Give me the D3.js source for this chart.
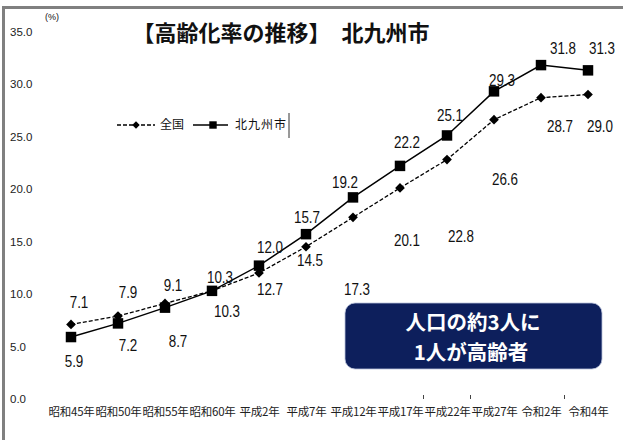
<!DOCTYPE html>
<head>
    <meta charset="utf-8">
    <style>
      body {
          margin: 0;
          background: #fff;
      }
      svg text {
          fill: #111;
      }
      .tick-y text {
          font-family: 'Liberation Sans Narrow', 'Liberation Sans', sans-serif;
          font-size: 11.5px;
          fill: #222;
      }
      .tick-x text {
          font-family: 'Noto Sans CJK JP', sans-serif;
          font-size: 11.5px;
          fill: #222;
      }
      .title {
          font-family: 'Noto Sans CJK JP', sans-serif;
          font-size: 22px;
          font-weight: bold;
      }
      .val {
          font-family: 'Liberation Sans', sans-serif;
          font-size: 16px;
      }
      .legend text {
          font-family: 'Noto Sans CJK JP', sans-serif;
          font-size: 12px;
      }
      .line {
          fill: none;
          stroke: #000;
      }
      .box text {
          font-family: 'Noto Sans CJK JP', sans-serif;
          font-size: 20.5px;
          font-weight: bold;
          fill: #fff;
      }
  </style>
</head>
<body>
<svg id="chart" width="623" height="440"></svg>
<script src="https://cdn.jsdelivr.net/npm/d3@7"></script>
<script>
  // categories + series
  var years = ["昭和45年", "昭和50年", "昭和55年", "昭和60年", "平成2年", "平成7年",
               "平成12年", "平成17年", "平成22年", "平成27年", "令和2年", "令和4年"];
  var zenkoku = [7.1, 7.9, 9.1, 10.3, 12.0, 14.5, 17.3, 20.1, 22.8, 26.6, 28.7, 29.0];
  var kitakyushu = [5.9, 7.2, 8.7, 10.3, 12.7, 15.7, 19.2, 22.2, 25.1, 29.3, 31.8, 31.3];
  var yTicks = [0, 5, 10, 15, 20, 25, 30, 35];

  // where each value label sits relative to its marker (px)
  var kitaLabelShift = [[3, 25], [10, 22], [13, 34], [8, -13], [11, 24], [1, -17],
                        [-8, -15], [7, -23], [3, -20], [8, -11], [22, -17], [14, -22]];
  var zenLabelShift = [[8, -22], [10, -23], [8, -18], [15, 21], [11, -25], [4, 14],
                       [4, 72], [7, 53], [14, 77], [11, 60], [19, 29], [12, 32]];
  // the few category-boundary ticks that show in the original
  var boundaryTicks = ["平成22年", "平成27年", "令和4年"];

  var svg = d3.select("#chart");

  // grey frame (left + top)
  svg.append("rect").attr("x", 2).attr("y", 6).attr("width", 621).attr("height", 3).attr("fill", "#808080");
  svg.append("rect").attr("x", 2).attr("y", 6).attr("width", 3).attr("height", 434).attr("fill", "#808080");

  var x = d3.scalePoint().domain(years).range([71, 588]);
  var y = d3.scaleLinear().domain([0, 35]).range([399, 31.5]);

  // y labels, left aligned, no axis line
  var gy = svg.append("g")
      .attr("class", "tick-y")
      .attr("transform", "translate(10,0)")
      .call(d3.axisLeft(y).tickValues(yTicks).tickSize(0).tickFormat(d3.format(".1f")));
  gy.select(".domain").remove();
  gy.selectAll("text").attr("x", 0).attr("text-anchor", "start");

  var gx = svg.append("g")
      .attr("class", "tick-x")
      .attr("transform", "translate(0,412)")
      .call(d3.axisBottom(x).tickSize(0));
  gx.select(".domain").remove();
  gx.selectAll("text").attr("y", 0).attr("dy", "0.35em").attr("letter-spacing", "-0.2px");

  var step = x.step();
  svg.append("g").selectAll("line")
      .data(boundaryTicks)
      .join("line")
      .attr("x1", function(d) { return x(d) - step / 2; })
      .attr("x2", function(d) { return x(d) - step / 2; })
      .attr("y1", 395).attr("y2", 399)
      .attr("stroke", "#444");

  svg.append("text")
      .attr("x", 45).attr("y", 20)
      .style("font-family", "'Liberation Sans Narrow', sans-serif")
      .style("font-size", "9px")
      .text("(%)");

  svg.append("text")
      .attr("class", "title")
      .attr("x", 281).attr("y", 41)
      .attr("text-anchor", "middle")
      .text("【高齢化率の推移】　北九州市");

  var line = d3.line()
      .x(function(d, i) { return x(years[i]); })
      .y(function(d) { return y(d); });

  svg.append("path")
      .datum(zenkoku)
      .attr("class", "line")
      .attr("stroke-width", 1.3)
      .attr("stroke-dasharray", "4,2")
      .attr("d", line);

  svg.append("path")
      .datum(kitakyushu)
      .attr("class", "line")
      .attr("stroke-width", 1.5)
      .attr("d", line);

  var diamond = d3.symbol().type(d3.symbolDiamond2).size(60);
  var square = d3.symbol().type(d3.symbolSquare).size(110);

  svg.append("g").selectAll("path")
      .data(zenkoku)
      .join("path")
      .attr("d", diamond)
      .attr("transform", function(d, i) { return "translate(" + x(years[i]) + "," + y(d) + ")"; })
      .attr("fill", "#000");

  svg.append("g").selectAll("path")
      .data(kitakyushu)
      .join("path")
      .attr("d", square)
      .attr("transform", function(d, i) { return "translate(" + x(years[i]) + "," + y(d) + ")"; })
      .attr("fill", "#000");

  // narrow look of the original labels: squeeze horizontally
  function labels(data, shift) {
    svg.append("g").selectAll("text")
        .data(data)
        .join("text")
        .attr("class", "val")
        .attr("text-anchor", "middle")
        .attr("dominant-baseline", "central")
        .attr("transform", function(d, i) {
          return "translate(" + (x(years[i]) + shift[i][0]) + "," + (y(d) + shift[i][1]) + ") scale(0.84,1)";
        })
        .text(function(d) { return d.toFixed(1); });
  }
  labels(kitakyushu, kitaLabelShift);
  labels(zenkoku, zenLabelShift);

  // legend
  var lg = svg.append("g").attr("class", "legend").attr("transform", "translate(0,125)");
  lg.append("line").attr("x1", 117).attr("x2", 155).attr("stroke", "#000")
      .attr("stroke-width", 1.3).attr("stroke-dasharray", "4,2");
  lg.append("path").attr("d", d3.symbol().type(d3.symbolDiamond2).size(35))
      .attr("transform", "translate(136,0)");
  lg.append("text").attr("x", 160).attr("dy", "0.35em").text("全国");
  lg.append("line").attr("x1", 193).attr("x2", 228).attr("stroke", "#000").attr("stroke-width", 1.5);
  lg.append("path").attr("d", d3.symbol().type(d3.symbolSquare).size(55))
      .attr("transform", "translate(213,0)");
  lg.append("text").attr("x", 235).attr("dy", "0.35em").attr("letter-spacing", "1px").text("北九州市");
  lg.append("line").attr("x1", 289).attr("x2", 289).attr("y1", -12).attr("y2", 13)
      .attr("stroke", "#333").attr("stroke-width", 1);

  // callout box
  var box = svg.append("g").attr("class", "box");
  box.append("rect")
      .attr("x", 345).attr("y", 303).attr("width", 257).attr("height", 66)
      .attr("rx", 10)
      .attr("fill", "#0d1f5c")
      .attr("stroke", "#b9c2da").attr("stroke-width", 0.8);
  var bt = box.append("text").attr("text-anchor", "middle");
  bt.append("tspan").attr("x", 473).attr("y", 330).text("人口の約3人に");
  bt.append("tspan").attr("x", 471).attr("y", 360).text("1人が高齢者");
</script>
</body>
